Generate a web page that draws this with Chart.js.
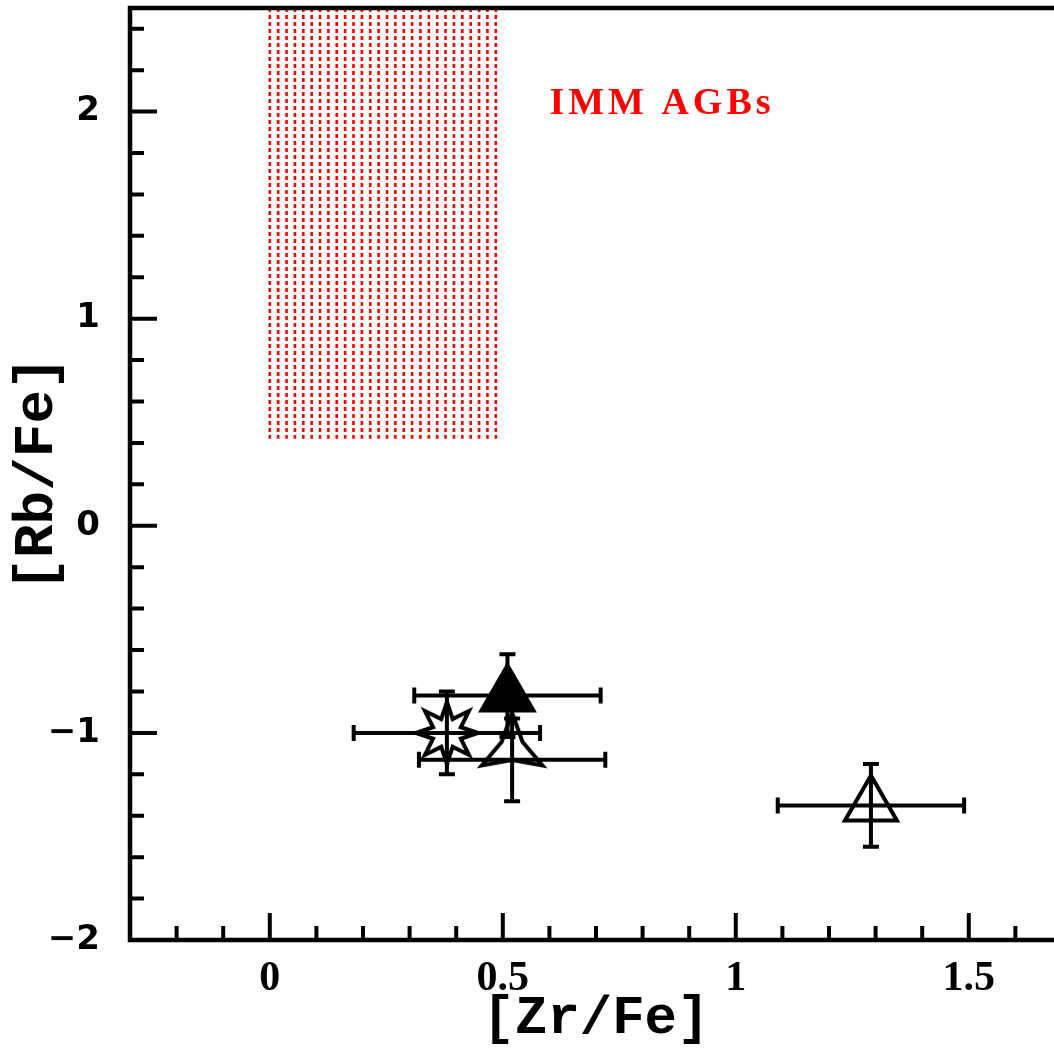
<!DOCTYPE html>
<html>
<head>
<meta charset="utf-8">
<script src="https://cdn.jsdelivr.net/npm/chart.js@4/dist/chart.umd.min.js"></script>
<style>
  html, body { margin: 0; padding: 0; background: #fff; overflow: hidden; }
  #wrap { width: 1070px; height: 1058px; }
</style>
</head>
<body>
<div id="wrap"><canvas id="rbChart" width="1070" height="1058"></canvas></div>
<script>
// Data untuk chart
const markerKind = ["star8", "triFilled", "triOpen", "tri3"];
const zrFe = [0.38, 0.51, 1.29, 0.52];
const rbFe = [-1.0, -0.82, -1.35, -1.13];
const zrErr = [0.2, 0.2, 0.2, 0.2];
const rbErr = [0.2, 0.2, 0.2, 0.2];

const xTicks = [0, 0.5, 1, 1.5];
const xTickLabels = ["0", "0.5", "1", "1.5"];
const yTicks = [-2, -1, 0, 1, 2];
const yTickLabels = ["\u22122", "\u22121", "0", "1", "2"];

// daerah IMM AGB (arsir merah)
const immZr = [0, 0.485];
const immRb = [0.42, 2.5];
const immLines = 28;
const immLabel = "IMM AGBs";
const immLabelAt = [0.6, 2.0];

// marker bintang dibuat di canvas kecil
function starCanvas(points, outer, inner, dy) {
  const size = 2 * outer + 30;
  const c = document.createElement("canvas");
  c.width = size;
  c.height = size;
  const g = c.getContext("2d");
  const cx = size / 2, cy = size / 2 + dy;
  g.beginPath();
  for (let i = 0; i < points * 2; i++) {
    const r = i % 2 ? inner : outer;
    const a = (i * Math.PI) / points;
    const px = cx + r * Math.sin(a), py = cy - r * Math.cos(a);
    if (i === 0) g.moveTo(px, py);
    else g.lineTo(px, py);
  }
  g.closePath();
  g.lineWidth = 4;
  g.lineJoin = "miter";
  g.strokeStyle = "#000";
  g.stroke();
  return c;
}

const markerImg = {
  star8: starCanvas(8, 31, 15, 0),
  tri3: starCanvas(3, 35, 12, -12),
};

const extras = {
  id: "extras",
  beforeDatasetsDraw(chart) {
    const { ctx, chartArea: a } = chart;
    const x = chart.scales.x, y = chart.scales.y;

    // arsir garis putus-putus
    ctx.save();
    ctx.beginPath();
    ctx.rect(a.left, a.top, a.right - a.left, a.bottom - a.top);
    ctx.clip();
    ctx.strokeStyle = "#ff0000";
    ctx.lineWidth = 2.6;
    ctx.setLineDash([4, 3]);
    const step = (immZr[1] - immZr[0]) / (immLines - 1);
    for (let i = 0; i < immLines; i++) {
      const px = x.getPixelForValue(immZr[0] + i * step);
      ctx.beginPath();
      ctx.moveTo(px, y.getPixelForValue(immRb[1]));
      ctx.lineTo(px, y.getPixelForValue(immRb[0]));
      ctx.stroke();
    }
    ctx.setLineDash([]);

    ctx.fillStyle = "#ff0000";
    ctx.font = 'bold 38px "Liberation Serif"';
    ctx.letterSpacing = "4px";
    ctx.textBaseline = "alphabetic";
    ctx.fillText(immLabel, x.getPixelForValue(immLabelAt[0]), y.getPixelForValue(immLabelAt[1]) + 2);
    ctx.letterSpacing = "0px";

    // error bar
    ctx.strokeStyle = "#000";
    ctx.lineWidth = 4;
    const cap = 8;
    zrFe.forEach((v, i) => {
      const px = x.getPixelForValue(v), py = y.getPixelForValue(rbFe[i]);
      const x0 = x.getPixelForValue(v - zrErr[i]), x1 = x.getPixelForValue(v + zrErr[i]);
      const y0 = y.getPixelForValue(rbFe[i] - rbErr[i]), y1 = y.getPixelForValue(rbFe[i] + rbErr[i]);
      ctx.beginPath();
      ctx.moveTo(x0, py); ctx.lineTo(x1, py);
      ctx.moveTo(x0, py - cap); ctx.lineTo(x0, py + cap);
      ctx.moveTo(x1, py - cap); ctx.lineTo(x1, py + cap);
      ctx.moveTo(px, y0); ctx.lineTo(px, y1);
      ctx.moveTo(px - cap, y0); ctx.lineTo(px + cap, y0);
      ctx.moveTo(px - cap, y1); ctx.lineTo(px + cap, y1);
      ctx.stroke();
    });
    ctx.restore();
  },
  afterDraw(chart) {
    const { ctx, chartArea: a } = chart;
    const x = chart.scales.x, y = chart.scales.y;
    ctx.save();
    ctx.strokeStyle = "#000";
    ctx.lineWidth = 4.5;
    ctx.strokeRect(a.left, a.top, a.right - a.left, a.bottom - a.top);

    // tick ke dalam
    ctx.lineWidth = 4;
    ctx.beginPath();
    for (let k = 0; k <= 22; k++) {
      const v = -2 + k * 0.2;
      const len = Math.abs(v - Math.round(v)) < 1e-6 ? 27 : 14;
      const py = y.getPixelForValue(v);
      ctx.moveTo(a.left, py); ctx.lineTo(a.left + len, py);
    }
    for (let k = 0; k <= 20; k++) {
      const v = -0.3 + k * 0.1;
      const len = Math.abs(v * 2 - Math.round(v * 2)) < 1e-6 ? 27 : 14;
      const px = x.getPixelForValue(v);
      ctx.moveTo(px, a.bottom); ctx.lineTo(px, a.bottom - len);
    }
    ctx.stroke();
    ctx.restore();
  },
};

const rbChart = new Chart(document.getElementById("rbChart"), {
  type: "scatter",
  data: {
    datasets: [
      {
        data: zrFe.map((v, i) => ({ x: v, y: rbFe[i] })),
        pointStyle: markerKind.map((k) => markerImg[k] || "triangle"),
        pointRadius: markerKind.map((k) => (markerImg[k] ? 1 : 30)),
        pointHoverRadius: markerKind.map((k) => (markerImg[k] ? 1 : 30)),
        pointBorderWidth: 4,
        pointBorderColor: "#000",
        pointBackgroundColor: markerKind.map((k) => (k === "triFilled" ? "#000" : "rgba(0,0,0,0)")),
        clip: false,
      },
    ],
  },
  plugins: [extras],
  options: {
    responsive: false,
    animation: false,
    events: [],
    layout: { autoPadding: false, padding: { top: 8, right: 8, left: 0, bottom: 0 } },
    plugins: { legend: { display: false }, tooltip: { enabled: false } },
    scales: {
      x: {
        type: "linear",
        min: -0.3,
        max: 1.7,
        grid: { display: false },
        border: { display: false },
        afterBuildTicks: (s) => { s.ticks = xTicks.map((v) => ({ value: v })); },
        afterFit: (s) => {
          s.height = 118;
          s.paddingLeft = 0;
          s.paddingRight = 0;
        },
        ticks: {
          color: "#000",
          padding: 6,
          maxRotation: 0,
          autoSkip: false,
          font: { family: '"Liberation Serif"', weight: "bold", size: 42 },
          callback: (v, i) => xTickLabels[i],
        },
        title: {
          display: true,
          text: "[Zr/Fe]",
          color: "#000",
          font: { family: '"Liberation Mono"', weight: "bold", size: 54, lineHeight: 1 },
          padding: { top: 0, bottom: 12 },
        },
      },
      y: {
        type: "linear",
        min: -2,
        max: 2.5,
        grid: { display: false },
        border: { display: false },
        afterBuildTicks: (s) => { s.ticks = yTicks.map((v) => ({ value: v })); },
        afterFit: (s) => {
          s.width = 130;
          s.paddingTop = 0;
          s.paddingBottom = 0;
        },
        ticks: {
          color: "#000",
          padding: 22,
          autoSkip: false,
          font: { family: '"DejaVu Sans"', weight: "bold", size: 34 },
          callback: (v, i) => yTickLabels[i],
        },
        title: {
          display: true,
          text: "[Rb/Fe]",
          color: "#000",
          font: { family: '"Liberation Mono"', weight: "bold", size: 56, lineHeight: 1 },
          padding: { top: 10, bottom: 0 },
        },
      },
    },
  },
});
</script>
</body>
</html>
